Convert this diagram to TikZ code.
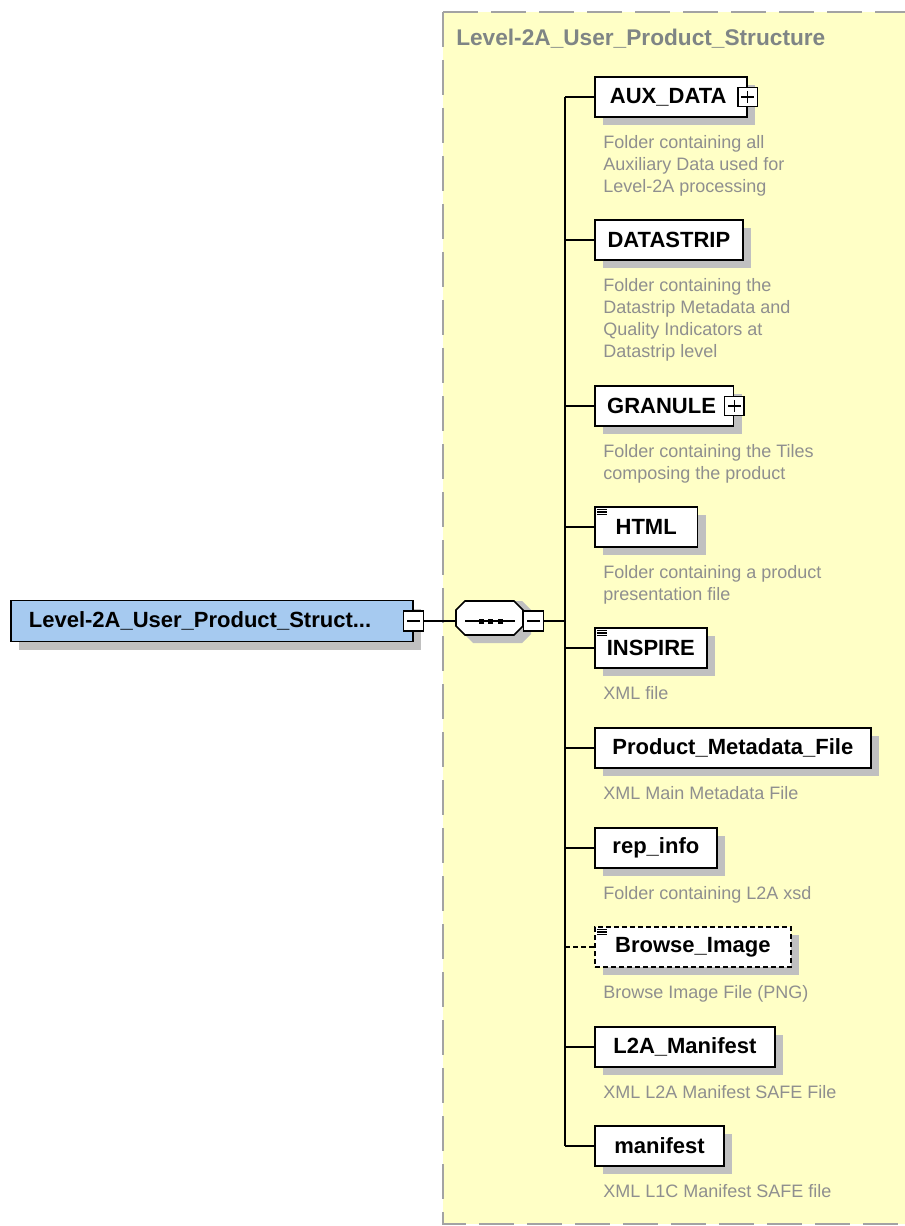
\documentclass[tikz,border=0pt]{standalone}
\usepackage{fontspec}
\setmainfont{Liberation Sans}
\usetikzlibrary{shadows, positioning}

\definecolor{docyellow}{HTML}{FFFFC6}
\definecolor{framegray}{HTML}{A3A3A3}
\definecolor{titlegray}{HTML}{7F8585}
\definecolor{descgray}{HTML}{8F8F8F}
\definecolor{rootblue}{HTML}{A6CAF0}
\definecolor{shadegray}{HTML}{C0C0C0}

\tikzset{
  elem/.style={draw, line width=1.3pt, fill=white, minimum height=30pt, anchor=west,
               inner sep=0pt, font=\fontsize{16.5}{19}\selectfont\bfseries,
               drop shadow={shadow xshift=6pt, shadow yshift=-6pt, fill=shadegray, opacity=1}},
  optelem/.style={elem, dash pattern=on 3.5pt off 2.5pt},
  desc/.style={align=left, inner sep=0pt, text=descgray, font=\fontsize{13.5}{16.5}\selectfont},
  togglebox/.style={draw, line width=1pt, fill=white, minimum width=14.5pt,
                    minimum height=14pt, inner sep=0pt},
  plusbox/.style={togglebox, path picture={
      \draw[line width=1pt] ([xshift=2.5pt]path picture bounding box.west)
        -- ([xshift=-2.5pt]path picture bounding box.east);
      \draw[line width=1pt] ([yshift=-2.5pt]path picture bounding box.north)
        -- ([yshift=2.5pt]path picture bounding box.south);}},
  minusbox/.style={togglebox, path picture={
      \draw[line width=1pt] ([xshift=2.5pt]path picture bounding box.west)
        -- ([xshift=-2.5pt]path picture bounding box.east);}},
  wire/.style={line width=1.3pt}
}

\begin{document}
\begin{tikzpicture}[x=0.75pt, y=-0.75pt]
  \useasboundingbox (0,0) rectangle (905,1226);

  % group frame
  \fill[docyellow] (443,12) rectangle (905,1224);
  \draw[framegray, line width=1.8pt, dash pattern=on 26pt off 10pt] (443,12) -- (905,12);
  \draw[framegray, line width=1.8pt, dash pattern=on 26pt off 10pt] (443,12) -- (443,1224) -- (905,1224);
  \node[anchor=west, inner sep=0pt, text=titlegray, font=\fontsize{17}{19}\selectfont\bfseries]
    (title) at (456,38.5) {Level-2A\_User\_Product\_Structure};

  % root element
  \node[elem, fill=rootblue, minimum height=30.75pt, text width=274.5pt, inner xsep=13.5pt,
        align=left] (root) at (10,621) {Level-2A\_User\_Product\_Struct...};
  \node[minusbox, minimum width=15pt, minimum height=15pt] (rootminus) at (root.east) {};

  % sequence compositor (octagon)
  \fill[shadegray] (464,610) -- (473,601) -- (522,601) -- (531,610) -- (531,634)
    -- (522,643) -- (473,643) -- (464,634) -- cycle;
  \filldraw[fill=white, line width=1.3pt] (456,610) -- (465,601) -- (514,601) -- (523,610)
    -- (523,626) -- (514,635) -- (465,635) -- (456,626) -- cycle;
  \node[inner sep=0pt, minimum width=50pt, minimum height=25.5pt] (seq) at (489.5,618) {};
  \draw[wire] (465,621) -- (515,621);
  \foreach \dx in {481,490.5,500}
    \fill (\dx-2.5,618.5) rectangle (\dx+2.5,623.5);
  \node[minusbox, anchor=west, minimum width=15pt, minimum height=15pt] (seqminus)
    at (seq.east |- root.east) {};
  \coordinate (bus) at (565,621);

  % children
  \node[elem, minimum width=114pt] (aux) at (594,97) {AUX\_DATA\hspace*{4pt}};
  \node[plusbox] (auxplus) at (aux.east) {};
  \node[desc, below right=12.75pt and 6.75pt of aux.south west] (auxdesc)
    {Folder containing all\\Auxiliary Data used for\\Level-2A processing};

  \node[elem, minimum width=111pt] (dstrip) at (594,240) {DATASTRIP};
  \node[desc, below right=12.75pt and 6.75pt of dstrip.south west] (dstripdesc)
    {Folder containing the\\Datastrip Metadata and\\Quality Indicators at\\Datastrip level};

  \node[elem, minimum width=104pt] (gran) at (594,406) {GRANULE\hspace*{4pt}};
  \node[plusbox] (granplus) at (gran.east) {};
  \node[desc, below right=12.75pt and 6.75pt of gran.south west] (grandesc)
    {Folder containing the Tiles\\composing the product};

  \node[elem, minimum width=77pt] (html) at (594,527) {HTML};
  \node[desc, below right=12.75pt and 6.75pt of html.south west] (htmldesc)
    {Folder containing a product\\presentation file};

  \node[elem, minimum width=84pt] (insp) at (594,648) {INSPIRE};
  \node[desc, below right=12.75pt and 6.75pt of insp.south west] (inspdesc) {XML file};

  \node[elem, minimum width=207pt] (pmf) at (594,748) {Product\_Metadata\_File};
  \node[desc, below right=12.75pt and 6.75pt of pmf.south west] (pmfdesc) {XML Main Metadata File};

  \node[elem, minimum width=91.5pt] (rep) at (594,848) {rep\_info};
  \node[desc, below right=12.75pt and 6.75pt of rep.south west] (repdesc) {Folder containing L2A xsd};

  \node[optelem, minimum width=147pt] (browse) at (594,947) {Browse\_Image};
  \node[desc, below right=12.75pt and 6.75pt of browse.south west] (browsedesc)
    {Browse Image File (PNG)};

  \node[elem, minimum width=135pt] (l2a) at (594,1047) {L2A\_Manifest};
  \node[desc, below right=12.75pt and 6.75pt of l2a.south west] (l2adesc)
    {XML L2A Manifest SAFE File};

  \node[elem, minimum width=97pt] (mani) at (594,1146) {manifest};
  \node[desc, below right=12.75pt and 6.75pt of mani.south west] (manidesc)
    {XML L1C Manifest SAFE file};

  % simple-content marks
  \foreach \c in {html, insp, browse}
    \foreach \k in {0,1,2}
      \draw[line width=0.9pt] ([xshift=2.5pt, yshift=-2.5pt-\k*1.9pt]\c.north west) -- ++(7pt,0);

  % connectors
  \draw[wire] (rootminus.east) -- (rootminus.east -| seq.west);
  \draw[wire] (seqminus.east) -- (bus);
  \draw[wire] (bus |- aux.west) -- (bus |- mani.west);
  \foreach \c in {aux, dstrip, gran, html, insp, pmf, rep, l2a, mani}
    \draw[wire] (bus |- \c.west) -- (\c.west);
  \draw[wire, dash pattern=on 3.5pt off 2.5pt] (bus |- browse.west) -- (browse.west);
\end{tikzpicture}
\end{document}
